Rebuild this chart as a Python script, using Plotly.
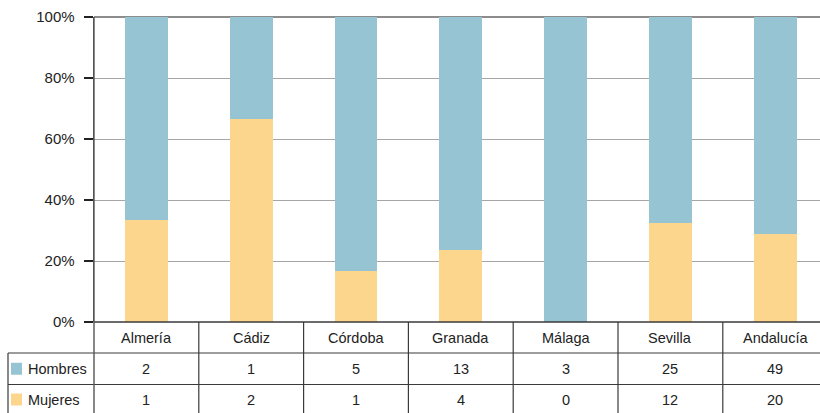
import plotly.graph_objects as go

categories = ["Almería", "Cádiz", "Córdoba", "Granada", "Málaga", "Sevilla", "Andalucía"]
hombres = [2, 1, 5, 13, 3, 25, 49]
mujeres = [1, 2, 1, 4, 0, 12, 20]
series_names = ["Hombres", "Mujeres"]
y_ticks = [0, 20, 40, 60, 80, 100]
y_tick_labels = ["0%", "20%", "40%", "60%", "80%", "100%"]

BLUE = "#97C4D3"
YELLOW = "#FDD68D"
LINE = "#3a3a3a"
TXT = "#222222"
FONT = "Liberation Sans, Arial, sans-serif"
FS = 14.5

W, H = 820, 413
ML, MR, MT, MB = 94, 0, 17, 91
PW = W - ML - MR
PH = H - MT - MB

def px_x(p):
    return (p - ML) / PW

def px_y(p):
    return (H - MB - p) / PH

xs = list(range(len(categories)))

fig = go.Figure()
fig.add_trace(go.Bar(x=xs, y=mujeres, name=series_names[1], marker_color=YELLOW,
                     marker_line_width=0, width=0.41))
fig.add_trace(go.Bar(x=xs, y=hombres, name=series_names[0], marker_color=BLUE,
                     marker_line_width=0, width=0.41))

shapes = []
ann = []
row_top, row1, row2, row_bot = 322, 353, 384.5, 420
# darker top line at 100%
shapes.append(dict(type="line", xref="paper", yref="paper", x0=0, x1=1,
                   y0=1, y1=1, line=dict(color="#666666", width=1.4), layer="below"))
for yy, x0 in [(row1, 8), (row2, 8)]:
    shapes.append(dict(type="line", xref="paper", yref="paper", x0=px_x(x0), x1=1,
                       y0=px_y(yy), y1=px_y(yy), line=dict(color=LINE, width=1.2)))
shapes.append(dict(type="line", xref="paper", yref="paper", x0=0, x1=1,
                   y0=0, y1=0, line=dict(color=LINE, width=1.3)))
shapes.append(dict(type="line", xref="paper", yref="paper", x0=0, x1=0,
                   y0=1, y1=px_y(row_bot), line=dict(color="#555555", width=1.4)))
shapes.append(dict(type="line", xref="paper", yref="paper", x0=px_x(8), x1=px_x(8),
                   y0=px_y(row1), y1=px_y(row_bot), line=dict(color=LINE, width=1.2)))
for i in range(1, len(categories)):
    shapes.append(dict(type="line", xref="x", yref="paper", x0=i - 0.5, x1=i - 0.5,
                       y0=px_y(row_top), y1=px_y(row_bot), line=dict(color=LINE, width=1.2)))

for i, c in enumerate(categories):
    ann.append(dict(x=i, y=px_y((row_top + row1) / 2), xref="x", yref="paper", text=c,
                    showarrow=False, xanchor="center", yanchor="middle",
                    font=dict(family=FONT, size=FS, color=TXT)))
    ann.append(dict(x=i, y=px_y((row1 + row2) / 2), xref="x", yref="paper", text=str(hombres[i]),
                    showarrow=False, xanchor="center", yanchor="middle",
                    font=dict(family=FONT, size=FS, color=TXT)))
    ann.append(dict(x=i, y=px_y(399.5), xref="x", yref="paper", text=str(mujeres[i]),
                    showarrow=False, xanchor="center", yanchor="middle",
                    font=dict(family=FONT, size=FS, color=TXT)))

for name, col, yc in [(series_names[0], BLUE, (row1 + row2) / 2), (series_names[1], YELLOW, 399.5)]:
    shapes.append(dict(type="rect", xref="paper", yref="paper", x0=px_x(11), x1=px_x(22),
                       y0=px_y(yc - 6), y1=px_y(yc + 6), fillcolor=col, line=dict(width=0)))
    ann.append(dict(x=px_x(26), y=px_y(yc), xref="paper", yref="paper", text=name,
                    showarrow=False, xanchor="left", yanchor="middle",
                    font=dict(family=FONT, size=FS, color=TXT)))

fig.update_layout(
    width=W, height=H,
    margin=dict(l=ML, r=MR, t=MT, b=MB, pad=0),
    barmode="stack", barnorm="percent",
    plot_bgcolor="white", paper_bgcolor="white",
    showlegend=False,
    shapes=shapes, annotations=ann,
    xaxis=dict(range=[-0.5, -0.5 + PW / 104.8], showticklabels=False, showgrid=False,
               zeroline=False, showline=False, fixedrange=True),
    yaxis=dict(range=[0, 100], tickvals=y_ticks, ticktext=y_tick_labels,
               showgrid=True, gridcolor="#A6A6A6", gridwidth=1,
               zeroline=False, showline=True, linecolor="#555555", linewidth=1.4,
               ticks="outside", ticklen=9, tickcolor="#222222", tickwidth=1.2,
               ticklabelstandoff=6,
               tickfont=dict(family=FONT, size=FS + 0.5, color=TXT), fixedrange=True),
    font=dict(family=FONT, color=TXT),
)

fig.write_html("out.html", config={"displayModeBar": False, "staticPlot": True},
               post_script="document.body.style.margin='0';document.body.style.overflow='hidden';")
